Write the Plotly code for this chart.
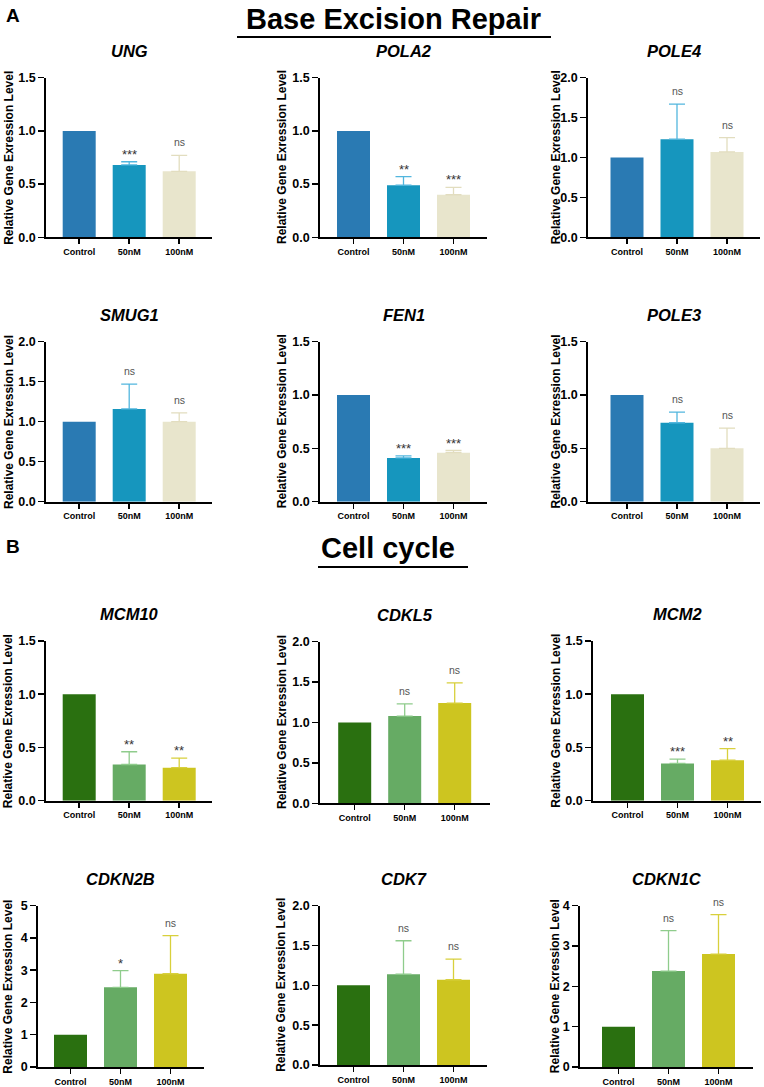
import plotly.graph_objects as go

W, H = 764, 1087

categories = ["Control", "50nM", "100nM"]

genes = ["UNG", "POLA2", "POLE4", "SMUG1", "FEN1", "POLE3",
         "MCM10", "CDKL5", "MCM2", "CDKN2B", "CDK7", "CDKN1C"]

val_UNG = [1.0, 0.68, 0.62]
err_UNG = [0, 0.03, 0.15]
sig_UNG = ["", "***", "ns"]

val_POLA2 = [1.0, 0.49, 0.40]
err_POLA2 = [0, 0.08, 0.07]
sig_POLA2 = ["", "**", "***"]

val_POLE4 = [1.0, 1.23, 1.07]
err_POLE4 = [0, 0.44, 0.18]
sig_POLE4 = ["", "ns", "ns"]

val_SMUG1 = [1.0, 1.16, 1.00]
err_SMUG1 = [0, 0.31, 0.11]
sig_SMUG1 = ["", "ns", "ns"]

val_FEN1 = [1.0, 0.41, 0.46]
err_FEN1 = [0, 0.02, 0.02]
sig_FEN1 = ["", "***", "***"]

val_POLE3 = [1.0, 0.74, 0.50]
err_POLE3 = [0, 0.10, 0.19]
sig_POLE3 = ["", "ns", "ns"]

val_MCM10 = [1.0, 0.34, 0.31]
err_MCM10 = [0, 0.12, 0.09]
sig_MCM10 = ["", "**", "**"]

val_CDKL5 = [1.0, 1.08, 1.24]
err_CDKL5 = [0, 0.15, 0.25]
sig_CDKL5 = ["", "ns", "ns"]

val_MCM2 = [1.0, 0.35, 0.38]
err_MCM2 = [0, 0.04, 0.11]
sig_MCM2 = ["", "***", "**"]

val_CDKN2B = [1.0, 2.47, 2.89]
err_CDKN2B = [0, 0.52, 1.18]
sig_CDKN2B = ["", "*", "ns"]

val_CDK7 = [1.0, 1.14, 1.07]
err_CDK7 = [0, 0.42, 0.26]
sig_CDK7 = ["", "ns", "ns"]

val_CDKN1C = [1.0, 2.38, 2.80]
err_CDKN1C = [0, 1.00, 0.98]
sig_CDKN1C = ["", "ns", "ns"]

values = [val_UNG, val_POLA2, val_POLE4, val_SMUG1, val_FEN1, val_POLE3,
          val_MCM10, val_CDKL5, val_MCM2, val_CDKN2B, val_CDK7, val_CDKN1C]
errors = [err_UNG, err_POLA2, err_POLE4, err_SMUG1, err_FEN1, err_POLE3,
          err_MCM10, err_CDKL5, err_MCM2, err_CDKN2B, err_CDK7, err_CDKN1C]
sigs = [sig_UNG, sig_POLA2, sig_POLE4, sig_SMUG1, sig_FEN1, sig_POLE3,
        sig_MCM10, sig_CDKL5, sig_MCM2, sig_CDKN2B, sig_CDK7, sig_CDKN1C]

y_max = [1.5, 1.5, 2.0, 2.0, 1.5, 1.5, 1.5, 2.0, 1.5, 5, 2.0, 4]
y_dtick = [0.5, 0.5, 0.5, 0.5, 0.5, 0.5, 0.5, 0.5, 0.5, 1, 0.5, 1]
y_fmt = [".1f"] * 9 + ["d", ".1f", "d"]

blue_colors = ["#2a7ab3", "#1696be", "#e8e5cc"]
blue_err = ["#2a7ab3", "#52b6de", "#e2ddbf"]
green_colors = ["#2a7010", "#66ab64", "#cdc520"]
green_err = ["#2a7010", "#8fcc8c", "#d8d03c"]

# panel geometry in pixels: left, right, top, bottom, first bar center
geom = [
    (46, 212, 77.7, 237.3, 79.2), (320, 487, 77.7, 237.3, 353.5), (588, 760, 77.7, 237.3, 627),
    (46, 212, 341.7, 501.7, 79.2), (320, 487, 341.7, 501.7, 353.5), (588, 760, 341.7, 501.7, 627),
    (46, 212, 641, 800.7, 79.2), (320, 490, 641.7, 803.3, 354.7), (593, 761, 641, 800.7, 627.5),
    (38, 204, 905.7, 1067, 70.5), (320, 487, 905.7, 1065, 353.5), (580, 753, 905.7, 1067, 618.5),
]
ytitle_x = [8.3, 281.5, 555.8]
SP = 50.0

FONT = "Arial, Liberation Sans, Helvetica, sans-serif"

fig = go.Figure()
annotations = []
shapes = []
layout_axes = {}

for i, g in enumerate(genes):
    n = i + 1
    xa = "x" if n == 1 else f"x{n}"
    ya = "y" if n == 1 else f"y{n}"
    L, R, T, B, c0 = geom[i]
    pal = blue_colors if i < 6 else green_colors
    epal = blue_err if i < 6 else green_err
    for j, cat in enumerate(categories):
        e = errors[i][j]
        fig.add_trace(go.Bar(
            x=[cat], y=[values[i][j]], xaxis=xa, yaxis=ya,
            width=0.66, marker=dict(color=pal[j], line=dict(width=0)),
            error_y=dict(type="data", array=[e], arrayminus=[0], symmetric=False,
                         visible=e > 0, color=epal[j], thickness=1.3, width=8),
            showlegend=False,
        ))
        s = sigs[i][j]
        if s:
            star = "*" in s
            annotations.append(dict(
                x=cat, y=values[i][j] + e, xref=xa, yref=ya,
                text=s, showarrow=False, yanchor="bottom",
                yshift=-2 if star else 5,
                font=dict(family=FONT, size=13 if star else 10.5,
                          color="#333333" if star else "#555555"),
            ))
    r0 = -(c0 - L) / SP
    r1 = 2 + (R - (c0 + 2 * SP)) / SP
    key_x = "xaxis" if n == 1 else f"xaxis{n}"
    key_y = "yaxis" if n == 1 else f"yaxis{n}"
    layout_axes[key_x] = dict(
        domain=[L / W, R / W], anchor=ya, type="category",
        categoryorder="array", categoryarray=categories,
        range=[r0, r1], showline=True, linecolor="black", linewidth=1.8,
        ticks="outside", ticklen=5, tickwidth=1.5, tickcolor="black",
        tickfont=dict(family=FONT, size=9, color="black", weight="bold"),
        showgrid=False, zeroline=False, fixedrange=True, automargin=False,
    )
    layout_axes[key_y] = dict(
        domain=[1 - B / H, 1 - T / H], anchor=xa,
        range=[0, y_max[i]], dtick=y_dtick[i], tick0=0, tickformat=y_fmt[i],
        showline=True, linecolor="black", linewidth=1.8,
        ticks="outside", ticklen=6, tickwidth=1.5, tickcolor="black",
        tickfont=dict(family=FONT, size=12.5, color="black", weight="bold"),
        showgrid=False, zeroline=False, fixedrange=True, automargin=False,
    )
    # gene title
    annotations.append(dict(
        x=(L + R) / 2 / W, y=1 - (T - 27) / H, xref="paper", yref="paper",
        text=f"<b><i>{g}</i></b>", showarrow=False,
        font=dict(family=FONT, size=16.5, color="black"),
        xanchor="center", yanchor="middle",
    ))
    # y-axis title
    annotations.append(dict(
        x=ytitle_x[i % 3] / W, y=1 - (T + B) / 2 / H, xref="paper", yref="paper",
        text="<b>Relative Gene Exression Level</b>", showarrow=False, textangle=-90,
        font=dict(family=FONT, size=12, color="black"),
        xanchor="center", yanchor="middle",
    ))

# section headers
annotations += [
    dict(x=13 / W, y=1 - 16 / H, xref="paper", yref="paper", text="<b>A</b>",
         showarrow=False, font=dict(family=FONT, size=19, color="black"),
         xanchor="center", yanchor="middle"),
    dict(x=394 / W, y=1 - 19 / H, xref="paper", yref="paper",
         text="<b>Base Excision Repair</b>", showarrow=False,
         font=dict(family=FONT, size=29, color="black"),
         xanchor="center", yanchor="middle"),
    dict(x=13 / W, y=1 - 546 / H, xref="paper", yref="paper", text="<b>B</b>",
         showarrow=False, font=dict(family=FONT, size=19, color="black"),
         xanchor="center", yanchor="middle"),
    dict(x=388 / W, y=1 - 548 / H, xref="paper", yref="paper",
         text="<b>Cell cycle</b>", showarrow=False,
         font=dict(family=FONT, size=29, color="black"),
         xanchor="center", yanchor="middle"),
]
shapes += [
    dict(type="line", xref="paper", yref="paper", x0=237 / W, x1=551 / W,
         y0=1 - 37 / H, y1=1 - 37 / H, line=dict(color="black", width=2)),
    dict(type="line", xref="paper", yref="paper", x0=318 / W, x1=468 / W,
         y0=1 - 567 / H, y1=1 - 567 / H, line=dict(color="black", width=2)),
]

fig.update_layout(
    width=W, height=H, margin=dict(l=0, r=0, t=0, b=0, autoexpand=False),
    paper_bgcolor="white", plot_bgcolor="white",
    annotations=annotations, shapes=shapes, bargap=0.34,
    font=dict(family=FONT),
    **layout_axes,
)

fig.write_html(
    "out.html",
    config={"displayModeBar": False, "staticPlot": True},
    post_script="document.body.style.margin='0px';document.body.style.overflow='hidden';",
)
